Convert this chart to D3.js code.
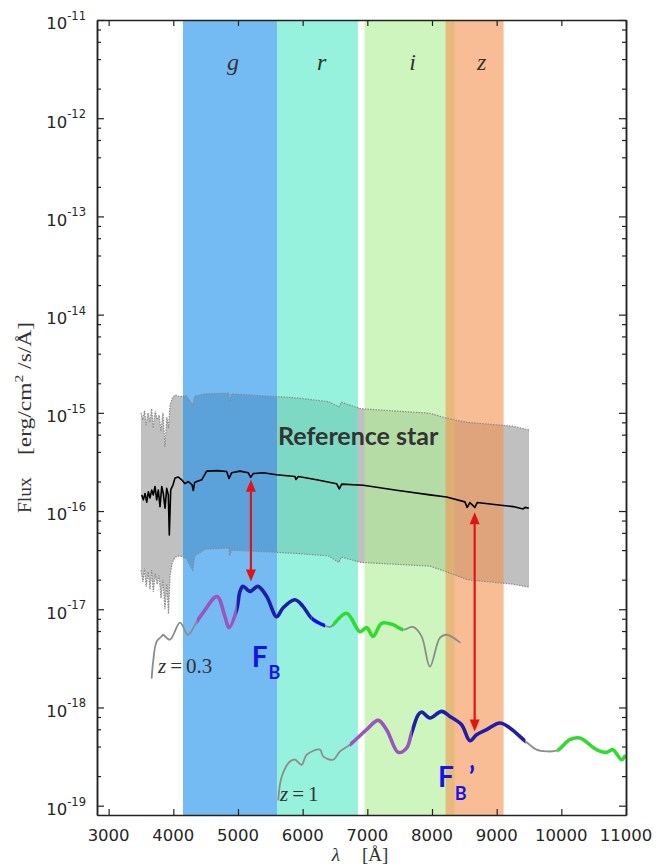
<!DOCTYPE html>
<html><head><meta charset="utf-8">
<script src="https://cdn.jsdelivr.net/npm/d3@7"></script>
<style>
html,body{margin:0;padding:0;background:#fff;}
svg{display:block;}
</style></head>
<body>
<svg id="chart" width="658" height="866"></svg>
<script>
// ---------------- DATA ----------------
const xTicks = [3000, 4000, 5000, 6000, 7000, 8000, 9000, 10000, 11000];
const xTickLabels = ["3000", "4000", "5000", "6000", "7000", "8000", "9000", "10000", "11000"];
const yTickExponents = [-11, -12, -13, -14, -15, -16, -17, -18, -19];
const yTickLabels = ["-11", "-12", "-13", "-14", "-15", "-16", "-17", "-18", "-19"];
const yMinorMultipliers = [2, 4, 6, 8];

const bandNames = ["g", "r", "i", "z"];
const bandStart = [4150, 5603, 6958, 8210];
const bandEnd = [5603, 6855, 8350, 9107];
const bandLabelWave = [4923, 6294, 7701, 8768];
const bandLabelFlux = 3.1e-12;

// reference star spectrum
const starWave = [3512,3537,3563,3589,3614,3640,3666,3691,3717,3743,3768,3794,3821,3845,3872,3898,3923,3938,3960,3985,4000,4026,4078,4130,4181,4232,4290,4309,4330,4362,4439,4516,4671,4825,4861,4902,5031,5159,5196,5237,5391,5598,5881,5896,5932,6216,6525,6566,6603,6937,7453,7968,8226,8509,8544,8586,8663,8699,8999,9255,9410,9440,9498];
const starFlux = [1.46e-16,1.30e-16,1.51e-16,1.23e-16,1.57e-16,1.36e-16,1.64e-16,1.46e-16,1.78e-16,1.30e-16,1.64e-16,1.11e-16,1.78e-16,1.51e-16,1.07e-16,1.70e-16,1.46e-16,5.7e-17,1.64e-16,1.78e-16,1.90e-16,2.17e-16,2.22e-16,2.08e-16,1.90e-16,2.00e-16,1.85e-16,1.62e-16,1.95e-16,2.00e-16,2.08e-16,2.55e-16,2.58e-16,2.53e-16,2.15e-16,2.45e-16,2.55e-16,2.45e-16,2.20e-16,2.41e-16,2.45e-16,2.34e-16,2.25e-16,2.10e-16,2.25e-16,2.08e-16,1.90e-16,1.68e-16,1.88e-16,1.83e-16,1.63e-16,1.46e-16,1.39e-16,1.24e-16,1.09e-16,1.22e-16,1.09e-16,1.22e-16,1.16e-16,1.11e-16,1.05e-16,1.09e-16,1.07e-16];

// envelope of the reference star
const envWave = [3500,3530,3555,3580,3610,3640,3665,3690,3720,3750,3780,3810,3840,3870,3900,3925,3950,3985,4030,4100,4200,4300,4330,4500,4860,4870,4900,5600,5900,6400,6560,6600,6900,7968,8226,8550,9255,9500];
const envUpper = [1.0e-15,8.5e-16,1.05e-15,7.5e-16,1.0e-15,8.0e-16,1.1e-15,7.0e-16,1.05e-15,8.5e-16,9.5e-16,6.5e-16,1.0e-15,4.5e-16,9.0e-16,7.0e-16,1.2e-15,1.42e-15,1.52e-15,1.46e-15,1.50e-15,1.2e-15,1.48e-15,1.56e-15,1.585e-15,1.3e-15,1.56e-15,1.46e-15,1.42e-15,1.30e-15,1.15e-15,1.28e-15,1.10e-15,9.9e-16,8.8e-16,8.0e-16,7.3e-16,6.7e-16];
const envLower = [2.5e-17,1.9e-17,2.6e-17,1.7e-17,2.4e-17,1.6e-17,2.5e-17,1.5e-17,2.3e-17,1.8e-17,2.2e-17,1.3e-17,2.0e-17,1.0e-17,1.8e-17,9.0e-18,2.2e-17,3.0e-17,3.4e-17,3.5e-17,3.3e-17,2.5e-17,3.5e-17,4.1e-17,4.2e-17,3.5e-17,4.0e-17,3.8e-17,3.7e-17,3.5e-17,3.0e-17,3.4e-17,3.0e-17,2.75e-17,2.4e-17,2.0e-17,1.8e-17,1.68e-17];

// galaxy template at z = 0.3
const z03Wave = [3666,3690,3743,3821,3841,3949,4104,4227,4362,4459,4675,4799,4861,4980,5031,5077,5186,5309,5444,5598,5696,5881,6005,6139,6346,6422,6468,6680,6886,6989,7091,7221,7400,7555,7705,7839,7968,8122,8226,8431];
const z03Flux = [2.0e-18,3.0e-18,4.7e-18,5.3e-18,5.5e-18,4.9e-18,7.3e-18,5.5e-18,7.5e-18,9.2e-18,1.35e-17,8.4e-18,6.5e-18,9.9e-18,1.52e-17,1.71e-17,1.52e-17,1.71e-17,1.35e-17,8.4e-18,1.03e-17,1.25e-17,1.07e-17,8.1e-18,6.8e-18,6.6e-18,6.95e-18,9.1e-18,5.9e-18,6.5e-18,5.3e-18,7.2e-18,6.95e-18,6.2e-18,6.6e-18,5.3e-18,2.6e-18,5.1e-18,5.5e-18,4.6e-18];
const z03Breaks = [4362, 4980, 6139, 6346, 6468, 7555];

// galaxy template at z = 1
const z1Wave = [5623,5676,5804,5881,5985,6062,6267,6318,6473,6577,6731,6989,7168,7298,7478,7607,7685,7787,7839,7968,8148,8277,8458,8586,8689,8844,9050,9204,9447,9617,9771,9935,10131,10286,10544,10699,10796,10931,10982];
const z1Flux = [1.15e-19,1.97e-19,2.82e-19,2.94e-19,2.61e-19,3.30e-19,3.72e-19,3.18e-19,2.94e-19,3.57e-19,4.18e-19,5.94e-19,7.38e-19,5.94e-19,3.49e-19,3.86e-19,5.50e-19,8.44e-19,9.0e-19,7.81e-19,9.12e-19,8.11e-19,6.67e-19,4.59e-19,5.28e-19,5.94e-19,6.95e-19,6.18e-19,4.51e-19,3.72e-19,3.57e-19,3.65e-19,4.70e-19,4.89e-19,3.72e-19,3.49e-19,3.72e-19,2.94e-19,3.18e-19];
const z1Breaks = [6731, 7685, 9447, 9935];

// flux ratio arrows
const arrowWave = [5200, 8660];
const arrowTop = [2.08e-16, 9.7e-17];
const arrowBottom = [1.92e-17, 5.7e-19];

// annotation anchor points (data units)
const refLabelPos = [5619, 4.7e-16];
const fbPos = [5212, 2.6e-18];
const fbPrimePos = [8093, 1.54e-19];
const z03LabelPos = [3763, 2.25e-18];
const z1LabelPos = [5650, 1.12e-19];

// ---------------- STYLE ----------------
const plot = {left: 97, right: 626, top: 20, bottom: 815};
const bandFill = ["#178ceb", "#50e9c5", "#afee94", "#f59150"];
const z03Colors = ["#8c8c8c", "#9a55c0", "#1e1ea8", "#0a0aff", "#8c8c8c", "#2edc2e", "#8c8c8c"];
const z1Colors = ["#8c8c8c", "#9a55c0", "#1e1ea8", "#8c8c8c", "#2edc2e"];

const svg = d3.select("#chart");
const x = d3.scaleLinear().domain([2820, 11000]).range([plot.left, plot.right]);
const y = d3.scaleLog().domain([Math.pow(10, -19.095), 1e-11]).range([plot.bottom, plot.top]);

svg.append("defs").append("clipPath").attr("id", "plotclip")
  .append("rect").attr("x", plot.left).attr("y", plot.top)
  .attr("width", plot.right - plot.left).attr("height", plot.bottom - plot.top);

const g = svg.append("g").attr("clip-path", "url(#plotclip)");

// envelope fill
const envPts = envWave.map((w, i) => ({w, u: envUpper[i], l: envLower[i]}));
g.append("path").datum(envPts)
  .attr("d", d3.area().x(d => x(d.w)).y0(d => y(d.l)).y1(d => y(d.u)))
  .attr("fill", "#c0c0c0");

// filter bands
bandNames.forEach((b, i) => {
  g.append("rect")
    .attr("x", x(bandStart[i])).attr("y", plot.top)
    .attr("width", x(bandEnd[i]) - x(bandStart[i]))
    .attr("height", plot.bottom - plot.top)
    .attr("fill", bandFill[i]).attr("fill-opacity", 0.6);
});

// envelope edges (dotted)
const edgeLine = d3.line().x(d => x(d[0])).y(d => y(d[1]));
[envUpper, envLower].forEach(arr => {
  g.append("path").datum(envWave.map((w, i) => [w, arr[i]]))
    .attr("d", edgeLine).attr("fill", "none")
    .attr("stroke", "#8a8a8a").attr("stroke-width", 1.2)
    .attr("stroke-dasharray", "1.5,1.2");
});

// reference star
g.append("path").datum(starWave.map((w, i) => [w, starFlux[i]]))
  .attr("d", edgeLine).attr("fill", "none")
  .attr("stroke", "#000").attr("stroke-width", 1.6).attr("stroke-linejoin", "round");

// galaxy templates with coloured segments
const smooth = d3.line().x(d => x(d[0])).y(d => y(d[1])).curve(d3.curveCatmullRom.alpha(0.5));
function drawSegmented(wave, flux, breaks, colors, id) {
  const d = smooth(wave.map((w, i) => [w, flux[i]]));
  const edges = [x.domain()[0], ...breaks, x.domain()[1]];
  const defs = svg.select("defs");
  colors.forEach((c, i) => {
    const cid = id + "_" + i;
    defs.append("clipPath").attr("id", cid).append("rect")
      .attr("x", x(edges[i])).attr("y", 0)
      .attr("width", x(edges[i + 1]) - x(edges[i])).attr("height", 866);
    const gray = c === "#8c8c8c";
    g.append("path").attr("d", d).attr("clip-path", `url(#${cid})`)
      .attr("fill", "none").attr("stroke", c)
      .attr("stroke-width", gray ? 1.8 : 3.6)
      .attr("stroke-linecap", "round").attr("stroke-linejoin", "round");
  });
}
drawSegmented(z03Wave, z03Flux, z03Breaks, z03Colors, "c03");
drawSegmented(z1Wave, z1Flux, z1Breaks, z1Colors, "c1");

// arrows
const red = "#e01414";
arrowWave.forEach((w, i) => {
  const ax = x(w), y1 = y(arrowTop[i]), y2 = y(arrowBottom[i]);
  const hl = 12, hw = 5;
  g.append("line").attr("x1", ax).attr("x2", ax)
    .attr("y1", y1 + hl - 1).attr("y2", y2 - hl + 1)
    .attr("stroke", red).attr("stroke-width", 2.2);
  g.append("path").attr("d", `M${ax},${y1} L${ax - hw},${y1 + hl} L${ax + hw},${y1 + hl} Z`).attr("fill", red);
  g.append("path").attr("d", `M${ax},${y2} L${ax - hw},${y2 - hl} L${ax + hw},${y2 - hl} Z`).attr("fill", red);
});

// band labels
bandNames.forEach((b, i) => {
  svg.append("text").attr("x", x(bandLabelWave[i])).attr("y", y(bandLabelFlux))
    .attr("text-anchor", "middle")
    .attr("font-family", "'Liberation Serif', serif").attr("font-style", "italic")
    .attr("font-size", 24).attr("fill", "#333").text(b);
});

// annotations
svg.append("text").attr("x", x(refLabelPos[0])).attr("y", y(refLabelPos[1]))
  .attr("font-family", "Lato, sans-serif").attr("font-weight", "bold")
  .attr("font-size", 25).attr("fill", "#333").text("Reference star");

function fLabel(pos, prime) {
  const t = svg.append("text").attr("x", x(pos[0])).attr("y", y(pos[1]))
    .attr("font-family", "Lato, sans-serif").attr("font-weight", "bold")
    .attr("font-size", 28).attr("fill", "#1414e6");
  t.append("tspan").text("F");
  t.append("tspan").attr("dy", 12.5).attr("dx", 1).attr("font-size", 18).text("B");
  if (prime) t.append("tspan").attr("dy", -12.5).attr("dx", 2).attr("font-size", 28).text("’");
}
fLabel(fbPos, false);
fLabel(fbPrimePos, true);

function zLabel(pos, val) {
  const t = svg.append("text").attr("x", x(pos[0])).attr("y", y(pos[1]))
    .attr("font-family", "'Liberation Serif', serif").attr("font-size", 21)
    .attr("fill", "#333");
  t.append("tspan").attr("font-style", "italic").text("z");
  t.append("tspan").attr("dx", 4).text("=");
  t.append("tspan").attr("dx", 4).text(val);
}
zLabel(z03LabelPos, "0.3");
zLabel(z1LabelPos, "1");

// ---------------- AXES ----------------
const axisColor = "#222";
const yMinor = [];
yTickExponents.forEach(e => yMinorMultipliers.forEach(m => {
  const v = m * Math.pow(10, e);
  if (v > y.domain()[0] && v < y.domain()[1]) yMinor.push(v);
}));
const yMajor = yTickExponents.map(e => Math.pow(10, e));

function styleAxis(sel) {
  sel.selectAll("path,line").attr("stroke", axisColor);
  sel.select(".domain").attr("stroke-width", 1.5);
  sel.selectAll(".tick line").attr("stroke-width", 1.2);
}
const noLab = () => "";
svg.append("g").attr("transform", `translate(0,${plot.bottom})`)
  .call(d3.axisBottom(x).tickValues(xTicks).tickSize(-6).tickSizeOuter(0).tickFormat(noLab)).call(styleAxis);
svg.append("g").attr("transform", `translate(0,${plot.top})`)
  .call(d3.axisTop(x).tickValues(xTicks).tickSize(-6).tickSizeOuter(0).tickFormat(noLab)).call(styleAxis);
svg.append("g").attr("transform", `translate(${plot.left},0)`)
  .call(d3.axisLeft(y).tickValues(yMajor).tickSize(-7).tickSizeOuter(0).tickFormat(noLab)).call(styleAxis);
svg.append("g").attr("transform", `translate(${plot.left},0)`)
  .call(d3.axisLeft(y).tickValues(yMinor).tickSize(-4).tickSizeOuter(0).tickFormat(noLab)).call(styleAxis);
svg.append("g").attr("transform", `translate(${plot.right},0)`)
  .call(d3.axisRight(y).tickValues(yMajor).tickSize(-7).tickSizeOuter(0).tickFormat(noLab)).call(styleAxis);
svg.append("g").attr("transform", `translate(${plot.right},0)`)
  .call(d3.axisRight(y).tickValues(yMinor).tickSize(-4).tickSizeOuter(0).tickFormat(noLab)).call(styleAxis);
svg.selectAll(".domain").attr("fill", "none");

// tick labels
xTicks.forEach((v, i) => {
  svg.append("text").attr("x", x(v)).attr("y", plot.bottom + 26)
    .attr("text-anchor", "middle").attr("font-family", "'DejaVu Sans', sans-serif")
    .attr("font-size", 16.5).attr("fill", "#262626").text(xTickLabels[i]);
});
yTickExponents.forEach((e, i) => {
  const t = svg.append("text").attr("x", 86).attr("y", y(Math.pow(10, e)) + 9.3)
    .attr("text-anchor", "end").attr("font-family", "'DejaVu Sans', sans-serif")
    .attr("font-size", 16.5).attr("fill", "#262626");
  t.append("tspan").text("10");
  t.append("tspan").attr("dy", -9.3).attr("font-size", 11.5).text(yTickLabels[i]);
});

// axis titles
const xt = svg.append("text").attr("x", 360).attr("y", 861)
  .attr("text-anchor", "middle").attr("font-family", "'Liberation Serif', serif")
  .attr("font-size", 19).attr("fill", "#333");
xt.append("tspan").attr("font-style", "italic").text("λ");
xt.append("tspan").attr("dx", 22).text("[Å]");

const yt = svg.append("g").attr("transform", "translate(31,513) rotate(-90)");
yt.append("text").attr("x", 0).attr("y", 0)
  .attr("font-family", "'Liberation Serif', serif").attr("font-size", 19.5).attr("fill", "#333")
  .text("Flux");
const yb = yt.append("text").attr("x", 58).attr("y", 0)
  .attr("font-family", "'Liberation Serif', serif").attr("font-size", 19.5).attr("fill", "#333")
  .attr("textLength", 133).attr("lengthAdjust", "spacingAndGlyphs");
yb.append("tspan").text("[erg/cm");
yb.append("tspan").attr("dy", -8).attr("font-size", 13).text("2");
yb.append("tspan").attr("dy", 8).text(" /s/Å]");
</script>
</body></html>
